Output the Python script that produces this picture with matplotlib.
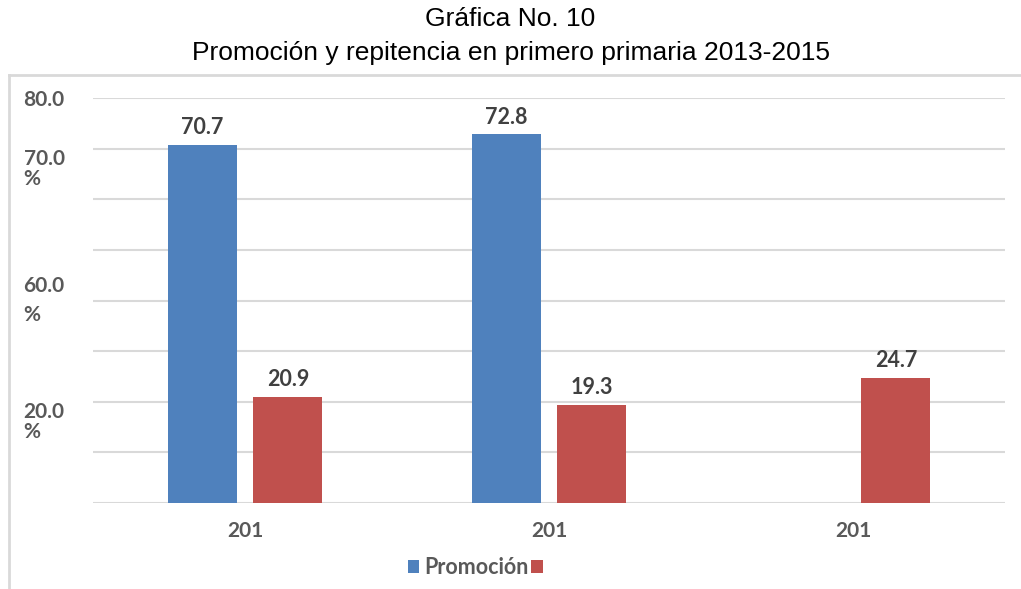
import matplotlib
matplotlib.use("Agg")
import matplotlib.pyplot as plt
import numpy as np
from matplotlib.lines import Line2D

# Data
categories = ["201", "201", "201"]
promocion = [70.7, 72.8, np.nan]
repitencia = [20.9, 19.3, 24.7]
series_labels = ["Promoción", ""]
ytick_values = [80, 70, 40, 20]
ytick_labels = ["80.0", "70.0\n%", "60.0\n%", "20.0\n%"]
title_lines = ["Gráfica No. 10", "Promoción y repitencia en primero primaria 2013-2015"]

BLUE = "#4F81BD"
RED = "#C0504D"
GRID = "#D9D9D9"
TXT = "#595959"
LBL = "#404040"
FONT = ["Lato", "DejaVu Sans"]

fig = plt.figure(figsize=(10.21, 5.89), dpi=100)
fig.patch.set_facecolor("white")

# chart-area border (top & left visible)
fig.add_artist(Line2D([9/1021, 1.0], [1-75/589, 1-75/589], transform=fig.transFigure,
                      color=GRID, lw=2))
fig.add_artist(Line2D([9/1021, 9/1021], [0, 1-75/589], transform=fig.transFigure,
                      color=GRID, lw=2))

ax = fig.add_axes([93/1021, 1-503/589, (1005-93)/1021, (503-98)/589])
x = np.arange(len(categories))
w = 0.227
off = 0.1414
b1 = ax.bar(x - off, promocion, w, color=BLUE, label=series_labels[0], zorder=3)
b2 = ax.bar(x + off, repitencia, w, color=RED, label=series_labels[1], zorder=3)

ax.set_xlim(-0.5, 2.5)
ax.set_ylim(0, 80)
for gy in np.arange(0, 81, 10):
    ax.axhline(gy, color=GRID, lw=1.5, zorder=1)
for s in ax.spines.values():
    s.set_visible(False)

ax.set_xticks(x)
ax.set_xticklabels(categories, fontfamily=FONT, fontweight="bold", fontsize=15, color=TXT)
ax.tick_params(axis="x", length=0, pad=13)

ax.set_yticks(ytick_values)
ax.set_yticklabels(ytick_labels, fontfamily=FONT, fontweight="bold", fontsize=15, color=TXT)
ax.tick_params(axis="y", length=0, pad=50)
vas = ["center_baseline", "top", "center", "top"]
lss = [1.0, 1.05, 1.6, 1.0]
for lab, va, ls in zip(ax.get_yticklabels(), vas, lss):
    lab.set_horizontalalignment("left")
    lab.set_verticalalignment(va)
    lab.set_linespacing(ls)

for bars, vals in ((b1, promocion), (b2, repitencia)):
    labs = ["" if np.isnan(v) else f"{v:.1f}" for v in vals]
    ax.bar_label(bars, labels=labs, padding=5, fontfamily=FONT, fontweight="bold",
                 fontsize=15.5, color=LBL)

fig.text(0.5, 1-19/589, title_lines[0], ha="center", va="center",
         fontfamily="Liberation Sans", fontsize=19, color="black")
fig.text(0.5, 1-53/589, title_lines[1], ha="center", va="center",
         fontfamily="Liberation Sans", fontsize=19, color="black")

leg = fig.legend(handles=[b1, b2], labels=series_labels, loc="center",
                 bbox_to_anchor=(478/1021, 1-568/589), ncol=2, frameon=False,
                 handlelength=0.55, handleheight=0.55, handletextpad=0.25,
                 columnspacing=0.1, prop={"family": FONT, "weight": "bold", "size": 15.5})
for t in leg.get_texts():
    t.set_color(TXT)

fig.savefig("out.png", dpi=100, facecolor="white")
